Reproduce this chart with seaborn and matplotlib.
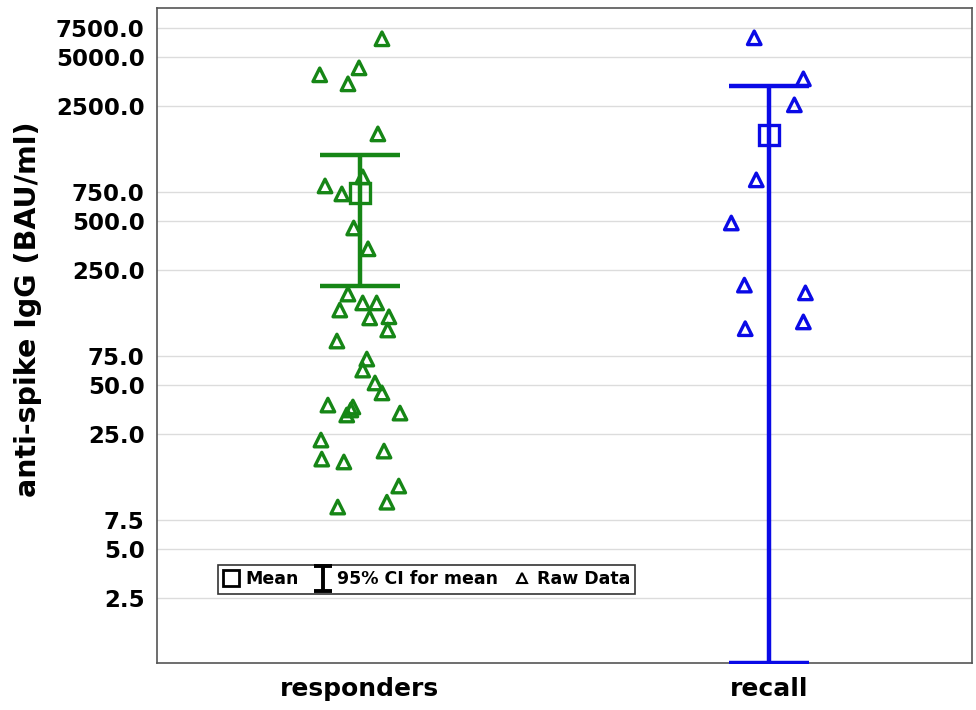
import numpy as np
import pandas as pd
import matplotlib
matplotlib.use("Agg")
import matplotlib.pyplot as plt
from matplotlib.lines import Line2D
from matplotlib.path import Path
import seaborn as sns

# groups on the x axis
groups = ["responders", "recall"]

# raw anti-spike IgG values (BAU/ml)
responders = [6470, 3900, 4300, 3435, 1700, 818, 731, 929, 453, 338,
              179, 158, 158, 143, 128, 130, 108, 92.5, 71.8, 61.5,
              51.3, 44.6, 37.6, 36.6, 35.1, 32.7, 33.6, 23.0, 19.7, 17.6,
              16.9, 12.05, 9.6, 8.97]
recall = [6560, 3685, 2557, 891, 486, 203, 182, 110, 121]

# horizontal jitter of each raw point (category units), as seen
responders_jitter = [0.054, -0.098, -0.002, -0.029, 0.044, -0.085, -0.044, 0.007, -0.015, 0.020,
                     -0.029, 0.007, 0.041, -0.049, 0.024, 0.071, 0.068, -0.056, 0.017, 0.007,
                     0.037, 0.054, -0.078, -0.017, -0.022, -0.032, 0.098, -0.095, 0.059, -0.093,
                     -0.039, 0.095, 0.066, -0.054]
recall_jitter = [-0.037, 0.083, 0.061, -0.032, -0.093, -0.061, 0.088, -0.059, 0.083]

# mean and 95% CI per group
means = [741, 1676]
ci_low = [201, 1.0]
ci_high = [1266, 3340]

# tick values of the log axis
yticks = [2.5, 5.0, 7.5, 25.0, 50.0, 75.0, 250.0, 500.0, 750.0, 2500.0, 5000.0, 7500.0]

colors = {"responders": "#168616", "recall": "#0a0ae6"}

sns.set_style("white")
plt.rcParams["font.family"] = ["DejaVu Sans"]
plt.rcParams["font.weight"] = "bold"
plt.rcParams["text.color"] = "black"
plt.rcParams["axes.labelcolor"] = "black"
plt.rcParams["xtick.color"] = "black"
plt.rcParams["ytick.color"] = "black"

raw = pd.DataFrame({
    "group": ["responders"] * len(responders) + ["recall"] * len(recall),
    "value": responders + recall,
    "jitter": responders_jitter + recall_jitter,
})
raw["x"] = raw["group"].map({g: i for i, g in enumerate(groups)}) + raw["jitter"]

fig = plt.figure(figsize=(9.76, 7.10), dpi=100)
ax = fig.add_axes([0.161, 0.066, 0.835, 0.923])

ax.set_yscale("log")
for yt in yticks:
    ax.axhline(yt, color="#dcdcdc", lw=1.0, zorder=0)

sns.scatterplot(data=raw, x="x", y="value", hue="group", palette=colors,
                marker="^", s=95, linewidth=2.4, legend=False, ax=ax, zorder=3)
# make triangles hollow with coloured edges
for coll in ax.collections:
    fc = coll.get_facecolors()
    coll.set_edgecolors(fc)
    coll.set_facecolors("none")

for i, g in enumerate(groups):
    ax.errorbar(i, means[i],
                yerr=[[means[i] - ci_low[i]], [ci_high[i] - means[i]]],
                fmt="none", ecolor=colors[g], elinewidth=3.2, capsize=29,
                capthick=3.2, zorder=4)
    ax.plot(i, means[i], marker="s", ms=14, mfc="none", mec=colors[g],
            mew=2.4, zorder=5)

ax.set_ylim(1.0, 10000)
ax.set_xlim(-0.495, 1.495)
ax.yaxis.set_major_locator(matplotlib.ticker.FixedLocator(yticks))
ax.yaxis.set_minor_locator(matplotlib.ticker.NullLocator())
ax.set_yticklabels([f"{v:.1f}" for v in yticks], fontsize=16.5, fontweight="bold")
ax.set_xticks(range(len(groups)))
ax.set_xticklabels(groups, fontsize=18, fontweight="bold")
ax.tick_params(axis="y", length=0, pad=9)
ax.tick_params(axis="x", direction="in", length=3, pad=10, color="#333333")
ax.set_xlabel("")
ax.set_ylabel("anti-spike IgG (BAU/ml)", fontsize=20.5, fontweight="bold")
ax.yaxis.set_label_coords(-0.141, 0.54)

for sp in ax.spines.values():
    sp.set_color("#555555")
    sp.set_linewidth(1.2)

# legend handles
i_path = Path([(-0.35, 0.5), (0.35, 0.5), (0, 0.5), (0, -0.5), (-0.35, -0.5), (0.35, -0.5)],
              [Path.MOVETO, Path.LINETO, Path.MOVETO, Path.LINETO, Path.MOVETO, Path.LINETO])
handles = [
    Line2D([], [], ls="none", marker="s", ms=12, mfc="none", mec="black", mew=2.0),
    Line2D([], [], ls="none", marker=i_path, ms=18, mec="black", mew=2.8),
    Line2D([], [], ls="none", marker="^", ms=7, mfc="none", mec="black", mew=1.5),
]
leg = ax.legend(handles, ["Mean", "95% CI for mean", "Raw Data"], ncol=3,
                loc="lower left", bbox_to_anchor=(0.064, 0.093), frameon=True,
                fancybox=False, edgecolor="#333333", framealpha=1,
                prop={"size": 12.5, "weight": "bold"}, handlelength=0.9,
                handletextpad=0.4, columnspacing=0.9, borderpad=0.3)
leg.get_frame().set_linewidth(1.2)

fig.savefig("out.png", dpi=100)
